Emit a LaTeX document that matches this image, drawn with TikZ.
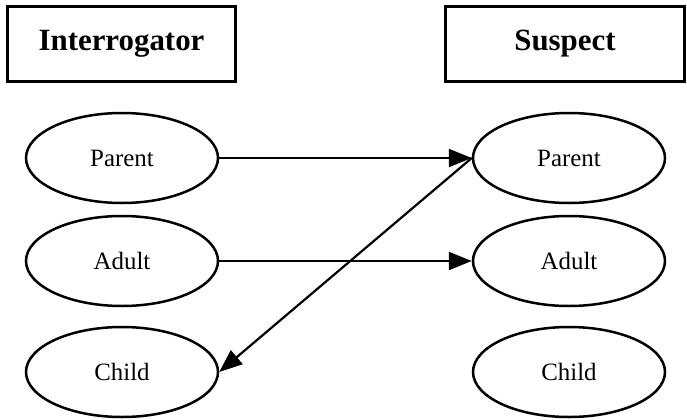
\documentclass[tikz,border=0pt]{standalone}
\usepackage{fontspec}
\setmainfont{Liberation Serif}
\usetikzlibrary{shapes.geometric,arrows.meta}

\begin{document}
\begin{tikzpicture}[x=1bp,y=1bp,
	role/.style={draw, line width=3.5bp, minimum width=#1, minimum height=75bp, inner sep=0pt, font=\fontsize{31}{36}\selectfont\bfseries},
	state/.style={draw, ellipse, line width=2.5bp, minimum width=192bp, minimum height=90bp, inner sep=0pt, font=\fontsize{25}{30}\selectfont},
	pile/.style={line width=2.2bp, -{Triangle[length=23bp,width=18bp]}}]

	\useasboundingbox (0,0) rectangle (687,419);

	% headings
	\node[role=228bp] (int) at (121.5,375) {Interrogator};
	\node[role=239bp] (sus) at (565,375) {Suspect};

	% ego states, interrogator side
	\node[state] (intP) at (122,261) {Parent};
	\node[state] (intA) at (122,158) {Adult};
	\node[state] (intC) at (122,47) {Child};

	% ego states, suspect side
	\node[state] (susP) at (569,261) {Parent};
	\node[state] (susA) at (569,158) {Adult};
	\node[state] (susC) at (569,47) {Child};

	% transactions
	\draw[pile] (intP.east) -- (susP.west);
	\draw[pile] (intA.east) -- (susA.west);
	\draw[pile] (susP.west) -- (intC.east);

\end{tikzpicture}
\end{document}
